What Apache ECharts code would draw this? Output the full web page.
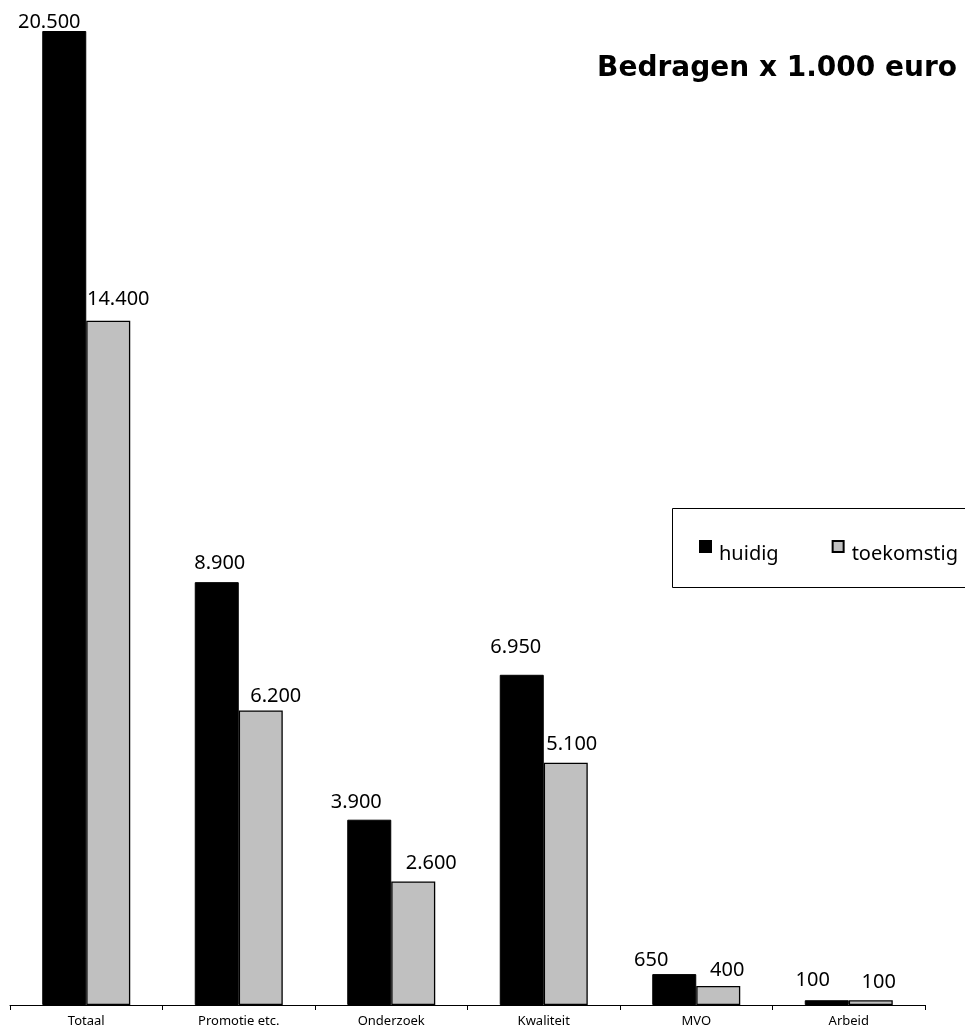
<!DOCTYPE html>
<html>
<head>
<meta charset="utf-8">
<script src="https://cdn.jsdelivr.net/npm/echarts@6/dist/echarts.min.js"></script>
<style>html,body{margin:0;padding:0;background:#fff}#c{width:965px;height:1032px}</style>
</head>
<body>
<div id="c"></div>
<script>
const categories = ['Totaal', 'Promotie etc.', 'Onderzoek', 'Kwaliteit', 'MVO', 'Arbeid'];
const huidig = [20500, 8900, 3900, 6950, 650, 100];
const toekomstig = [14400, 6200, 2600, 5100, 400, 100];
const seriesNames = ['huidig', 'toekomstig'];
const titleText = 'Bedragen x 1.000 euro';

// label nudges (px) as placed in the original picture
const huidigLabelNudge = [[-15, 8], [3, -2], [-13, 0], [-6, -10], [-23, 3], [-14, -3]];
const toekomstigLabelNudge = [[10, -5], [15, 3], [18, -1], [6, -1], [9, 1], [8, -1]];

const fmt = v => String(v).replace(/\B(?=(\d{3})+(?!\d))/g, '.');
const FONT = '"Noto Sans", "Open Sans", sans-serif';

const buildData = (vals, nudges) => vals.map((v, i) => ({
  value: v,
  label: {offset: nudges[i]}
}));

const chart = echarts.init(document.getElementById('c'), null, {renderer: 'canvas'});
const labelCfg = {
  show: true, position: 'top', distance: 7,
  color: '#000', fontSize: 20, fontFamily: FONT,
  formatter: p => fmt(p.value)
};
chart.setOption({
  animation: false,
  backgroundColor: '#fff',
  title: {
    text: titleText, right: 3, top: 50,
    textStyle: {fontSize: 28, fontWeight: 'bold', color: '#000', fontFamily: '"DejaVu Sans", sans-serif'}
  },
  graphic: [{
    type: 'rect',
    shape: {x: 672.5, y: 508.5, width: 330, height: 79},
    style: {fill: 'none', stroke: '#000', lineWidth: 1},
    silent: true
  }],
  legend: {
    data: seriesNames,
    left: 699, top: 540,
    orient: 'horizontal',
    padding: 0,
    itemWidth: 11, itemHeight: 11, itemGap: 53,
    icon: 'rect',
    formatter: n => '{t|' + n + '}',
    textStyle: {
      fontSize: 20, color: '#000', fontFamily: FONT,
      rich: {t: {fontSize: 20, color: '#000', fontFamily: FONT, padding: [16, 0, 0, 3]}}
    }
  },
  grid: {left: 10, right: 40, top: 31, bottom: 27, containLabel: false},
  xAxis: {
    type: 'category', data: categories,
    axisLine: {lineStyle: {color: '#000', width: 1}},
    axisTick: {show: true, length: 5, lineStyle: {color: '#000'}},
    axisLabel: {color: '#000', fontSize: 13, fontFamily: FONT, margin: 10}
  },
  yAxis: {
    type: 'value', min: 0, max: 20500, show: false,
    splitLine: {show: false}
  },
  series: [
    {
      name: seriesNames[0], type: 'bar', data: buildData(huidig, huidigLabelNudge),
      barWidth: 44, barGap: '0%',
      itemStyle: {color: '#000', borderColor: '#000', borderWidth: 1},
      label: labelCfg
    },
    {
      name: seriesNames[1], type: 'bar', data: buildData(toekomstig, toekomstigLabelNudge),
      barWidth: 44, barGap: '0%',
      itemStyle: {color: '#c0c0c0', borderColor: '#000', borderWidth: 1.3},
      label: labelCfg
    }
  ]
});
</script>
</body>
</html>
